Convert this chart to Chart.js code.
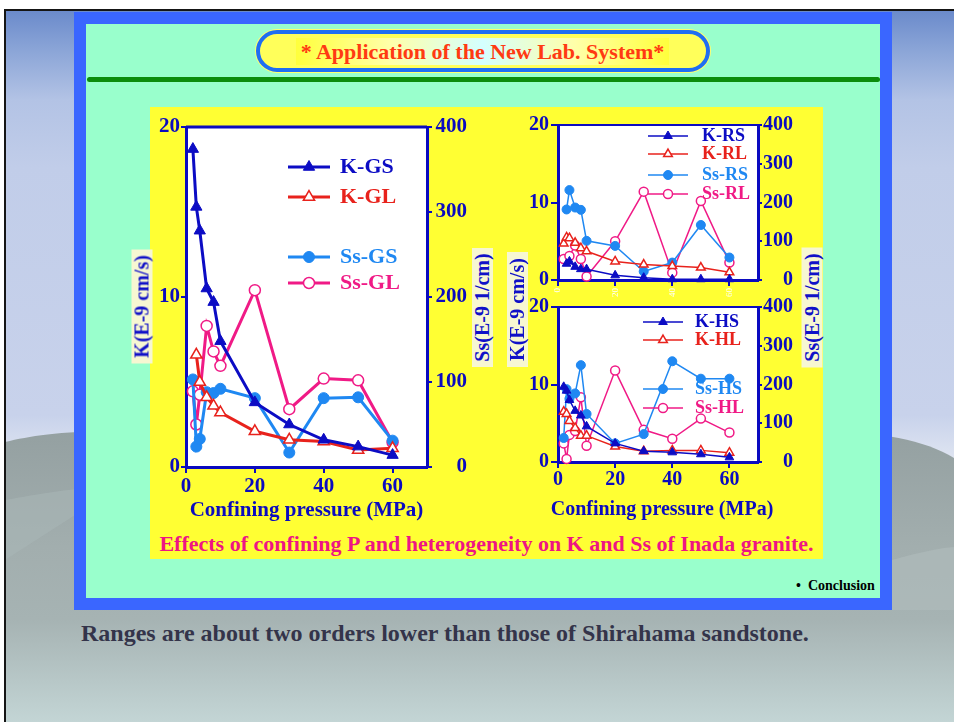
<!DOCTYPE html>
<html>
<head>
<meta charset="utf-8">
<script src="https://cdn.jsdelivr.net/npm/chart.js@4.4.1/dist/chart.umd.min.js"></script>
<style>
  html, body { margin: 0; padding: 0; }
  body { width: 954px; height: 722px; position: relative; overflow: hidden; background: #fff;
         font-family: 'Liberation Serif', 'Times New Roman', serif; }
  .abs { position: absolute; }
  #frame { left: 74px; top: 12px; width: 818px; height: 598px; background: #3a66ff; }
  #panel { left: 86px; top: 24px; width: 794px; height: 574px; background: #99ffcc; }
  #pill { left: 256px; top: 30px; width: 454px; height: 42px; box-sizing: border-box;
          border: 4px solid #1f6ef2; border-radius: 21px; background: #ffff5a;
          box-shadow: 0 0 0 1px #ffff70; }
  #pillText { left: 296px; top: 38px; width: 373px; height: 27px; line-height: 27px; text-align: center;
              font-size: 22px; font-weight: bold; color: #ff3a12; white-space: nowrap;
              background: linear-gradient(to right, #ffff3c 0%, #ffffa8 25%, #d4ffff 50%, #ffffa8 75%, #ffff3c 100%); }
  #rule { left: 87px; top: 77px; width: 793px; height: 5px; background: #0c8c0c; border-radius: 3px; }
  #yellow { left: 150px; top: 107px; width: 673px; height: 452px; background: #ffff33; }
  .ytitle { height: 21px; line-height: 21px; font-size: 20px; font-weight: bold; color: #1010c8;
            background: #f7f7d2; text-align: center; white-space: nowrap; transform: rotate(-90deg); }
  #xTitleRight { left: 542px; top: 496px; width: 240px; text-align: center; font-size: 20px; font-weight: bold;
                 color: #0b0bc0; white-space: nowrap; line-height: 24px; }
  #caption { left: 150px; top: 531px; width: 673px; text-align: center; font-size: 22px; font-weight: bold;
             color: #ee1583; white-space: nowrap; line-height: 26px; }
  #concl { left: 796px; top: 578px; font-size: 14px; font-weight: bold; color: #000; white-space: nowrap; }
  #note { left: 81px; top: 620px; font-size: 24px; font-weight: bold; color: #34344a; white-space: nowrap; }
  canvas { position: absolute; }
</style>
</head>
<body>
<svg class="abs" style="left:0;top:0" width="954" height="722">
  <defs>
    <linearGradient id="sky" x1="0" y1="10" x2="0" y2="460" gradientUnits="userSpaceOnUse">
      <stop offset="0" stop-color="#6a8acb"/>
      <stop offset="0.09" stop-color="#8ba5d7"/>
      <stop offset="0.2" stop-color="#b3c3e5"/>
      <stop offset="0.35" stop-color="#c1cde9"/>
      <stop offset="0.9" stop-color="#c8d2eb"/>
      <stop offset="1" stop-color="#dfe5f1"/>
    </linearGradient>
    <linearGradient id="hill" x1="0" y1="430" x2="0" y2="722" gradientUnits="userSpaceOnUse">
      <stop offset="0" stop-color="#94a0a1"/>
      <stop offset="0.4" stop-color="#a2aeae"/>
      <stop offset="0.65" stop-color="#a6b3b3"/>
      <stop offset="1" stop-color="#c3d5d5"/>
    </linearGradient>
  </defs>
  <rect x="5" y="10" width="949" height="712" fill="url(#sky)"/>
  <path d="M5,442 C30,436 55,432 120,430 L820,430 C880,432 925,440 954,458 L954,722 L5,722 Z" fill="url(#hill)"/>
  <path d="M5,500 C40,494 70,488 120,486 L5,560 Z" fill="#a9b6b6" opacity="0.6"/>
  <path d="M892,560 C920,552 940,548 954,547 L954,610 L892,610 Z" fill="#b0bdbd" opacity="0.6"/>
  <rect x="4" y="9" width="950" height="2" fill="#151515"/>
  <rect x="4" y="9" width="2" height="713" fill="#151515"/>
</svg>

<div id="frame" class="abs"></div>
<div id="panel" class="abs"></div>
<div id="pill" class="abs"></div>
<div id="pillText" class="abs">* Application of the New Lab. System*</div>
<div id="rule" class="abs"></div>
<div id="yellow" class="abs"></div>

<canvas id="cMain" width="317" height="420" style="left:150px;top:107px"></canvas>
<canvas id="cTop" width="293" height="200" style="left:500px;top:107px"></canvas>
<canvas id="cBottom" width="293" height="240" style="left:500px;top:285px"></canvas>

<div class="abs ytitle" style="left:85px;top:296px;width:114px;">K(E-9 cm/s)</div>
<div class="abs ytitle" style="left:423px;top:297px;width:119px;">Ss(E-9 1/cm)</div>
<div class="abs ytitle" style="left:460px;top:299px;width:115px;">K(E-9 cm/s)</div>
<div class="abs ytitle" style="left:752px;top:297px;width:120px;">Ss(E-9 1/cm)</div>
<div id="xTitleRight" class="abs">Confining pressure (MPa)</div>

<div id="caption" class="abs">Effects of confining P and heterogeneity on K and Ss of Inada granite.</div>
<div id="concl" class="abs">&#8226;&nbsp;&nbsp;Conclusion</div>
<div id="note" class="abs">Ranges are about two orders lower than those of Shirahama sandstone.</div>

<script>
// Inada granite: permeability K (E-9 cm/s) and specific storage Ss (E-9 1/cm)
// against confining pressure (MPa), for three specimen groups.

// G group
const pGS   = [2, 3, 4, 6, 8, 10, 20, 30, 40, 50, 60];
const kGS   = [18.7, 15.3, 13.9, 10.5, 9.7, 7.4, 3.8, 2.5, 1.6, 1.2, 0.7];
const ssGS  = [103, 24, 33, 88, 87, 92, 81, 17, 81, 82, 31];
const pGL   = [3, 4, 6, 8, 10, 20, 30, 40, 50, 60];
const kGL   = [6.6, 5.0, 4.1, 3.6, 3.2, 2.1, 1.6, 1.5, 1.0, 1.1];
const pGLss = [2, 3, 4, 6, 8, 10, 20, 30, 40, 50, 60];
const ssGL  = [89, 50, 85, 166, 136, 119, 208, 68, 104, 102, 29];

// R group
const pRS   = [3, 4, 6, 8, 10, 20, 30, 40, 50, 60];
const kRS   = [2.1, 2.4, 1.7, 1.4, 1.4, 0.6, 0.3, 0.1, 0.1, 0.1];
const ssRS  = [182, 232, 187, 181, 101, 88, 22, 45, 142, 58];
const pRL   = [2, 3, 4, 6, 8, 10, 20, 30, 40, 50, 60];
const kRL   = [4.7, 5.5, 5.4, 4.8, 4.1, 3.7, 2.4, 2.0, 1.8, 1.6, 1.0];
const pRLss = [2, 4, 6, 8, 10, 20, 30, 40, 50, 60];
const ssRL  = [54, 62, 89, 54, 9, 100, 228, 19, 204, 45];

// H group
const pHS   = [2, 3, 4, 6, 8, 10, 20, 30, 40, 50, 60];
const kHS   = [9.7, 9.2, 8.0, 6.6, 6.0, 4.6, 2.4, 1.4, 1.25, 1.0, 0.6];
const ssHS  = [62, 188, 163, 177, 250, 124, 48, 72, 260, 215, 215];
const pHL   = [2, 3, 4, 6, 8, 10, 20, 30, 40, 50, 60];
const kHL   = [6.5, 6.2, 5.3, 4.4, 3.4, 3.4, 2.0, 1.4, 1.5, 1.5, 1.2];
const ssHL  = [48, 8, 70, 80, 167, 42, 236, 83, 60, 112, 76];

// axis ticks
const pressureTicks = [0, 20, 40, 60];
const kTicks = [0, 10, 20];
const ssTicks = [0, 100, 200, 300, 400];

const AXIS = '#0b0bc0';
const NAVY = '#0c0cc4';
const RED = '#e8221c';
const SKY = '#1f88f2';
const PINK = '#f01a86';
const SERIF = "'Liberation Serif', 'Times New Roman', serif";

const pts = (xs, ys) => xs.map((x, i) => ({ x, y: ys[i] }));

function series(label, data, axis, color, style, filled, width, radius) {
  return {
    label, data, yAxisID: axis,
    borderColor: color, borderWidth: width, tension: 0, clip: false,
    pointStyle: style, pointRadius: radius,
    pointBackgroundColor: filled ? color : '#ffffff',
    pointBorderColor: color, pointBorderWidth: filled ? 1 : 1.5
  };
}

// white plot area with a top edge closing the frame
const plotFrame = {
  id: 'plotFrame',
  beforeDraw(chart) {
    const { ctx, chartArea: a } = chart;
    ctx.save();
    ctx.fillStyle = '#ffffff';
    ctx.fillRect(a.left, a.top, a.right - a.left, a.bottom - a.top);
    ctx.restore();
  },
  afterDraw(chart, args, o) {
    const { ctx, chartArea: a } = chart;
    ctx.save();
    ctx.strokeStyle = AXIS;
    ctx.lineWidth = o.width || 3;
    ctx.beginPath();
    ctx.moveTo(a.left, a.top);
    ctx.lineTo(a.right, a.top);
    ctx.stroke();
    ctx.restore();
  }
};

// legend entries placed inside the plot area
const floatingLegend = {
  id: 'floatingLegend',
  afterDraw(chart, args, o) {
    if (!o.rows) return;
    const { ctx, chartArea: a } = chart;
    o.rows.forEach(r => {
      const ds = chart.data.datasets[r.index];
      const y = a.top + r.dy;
      const x0 = a.left + o.lineFrom, x1 = a.left + o.lineTo;
      ctx.save();
      ctx.strokeStyle = ds.borderColor;
      ctx.lineWidth = ds.borderWidth;
      ctx.beginPath(); ctx.moveTo(x0, y); ctx.lineTo(x1, y); ctx.stroke();
      ctx.fillStyle = ds.pointBackgroundColor;
      ctx.strokeStyle = ds.pointBorderColor;
      ctx.lineWidth = ds.pointBorderWidth;
      Chart.helpers.drawPoint(ctx, { pointStyle: ds.pointStyle, radius: ds.pointRadius, rotation: 0,
                                     borderWidth: ds.pointBorderWidth }, (x0 + x1) / 2, y);
      ctx.fillStyle = ds.borderColor;
      ctx.font = 'bold ' + o.textSize + 'px ' + SERIF;
      ctx.textBaseline = 'middle';
      ctx.textAlign = 'left';
      ctx.fillText(ds.label, a.left + o.textAt, y);
      ctx.restore();
    });
  }
};

function setTicks(list) {
  return scale => { scale.ticks = list.map(v => ({ value: v })); };
}

function gridOpts(tl) {
  return { display: true, drawOnChartArea: false, drawTicks: true, tickLength: tl, color: AXIS, lineWidth: 2 };
}

function buildChart(id, datasets, cfg) {
  return new Chart(document.getElementById(id), {
    type: 'line',
    data: { datasets },
    options: {
      responsive: false, animation: false, devicePixelRatio: 1,
      layout: { padding: { top: cfg.padTop, left: 0, right: 0, bottom: 0 } },
      plugins: {
        legend: { display: false }, tooltip: { enabled: false },
        plotFrame: { width: cfg.topWidth },
        floatingLegend: cfg.legend
      },
      scales: {
        x: {
          type: 'linear', min: 0, max: 70,
          afterBuildTicks: setTicks(pressureTicks),
          afterFit: s => { s.height = cfg.xHeight; },
          grid: gridOpts(6),
          border: { display: true, color: AXIS, width: 3 },
          ticks: cfg.xTicks,
          title: cfg.xTitle
        },
        yK: {
          position: 'left', min: 0, max: 20,
          afterBuildTicks: setTicks(kTicks),
          afterFit: s => { s.width = cfg.leftWidth; },
          grid: gridOpts(cfg.leftTick),
          border: { display: true, color: AXIS, width: 3 },
          ticks: { color: AXIS, padding: cfg.leftPad, font: { family: SERIF, size: cfg.tickSize, weight: 'bold' } }
        },
        ySs: {
          position: 'right', min: 0, max: 400,
          afterBuildTicks: setTicks(ssTicks),
          afterFit: s => { s.width = cfg.rightWidth; },
          grid: gridOpts(cfg.rightTick),
          border: { display: true, color: AXIS, width: 3 },
          ticks: { color: AXIS, padding: 1, crossAlign: 'far', font: { family: SERIF, size: cfg.tickSize, weight: 'bold' } }
        }
      }
    },
    plugins: [plotFrame, floatingLegend]
  });
}

const pressureTitle = (size, bottom) => ({
  display: true, text: 'Confining pressure (MPa)', color: AXIS,
  font: { family: SERIF, size, weight: 'bold' }, padding: { top: 0, bottom }
});

// G group: large panel
buildChart('cMain', [
  series('K-GS', pts(pGS, kGS), 'yK', NAVY, 'triangle', true, 3, 6.5),
  series('K-GL', pts(pGL, kGL), 'yK', RED, 'triangle', false, 3, 6.5),
  series('Ss-GS', pts(pGS, ssGS), 'ySs', SKY, 'circle', true, 3, 5.5),
  series('Ss-GL', pts(pGLss, ssGL), 'ySs', PINK, 'circle', false, 3, 5.5)
], {
  padTop: 20, xHeight: 60, leftWidth: 36, rightWidth: 40,
  leftTick: 5, leftPad: 1, rightTick: 5, tickSize: 21, topWidth: 3,
  xTicks: { color: AXIS, padding: 1, maxRotation: 0, font: { family: SERIF, size: 21, weight: 'bold' } },
  xTitle: pressureTitle(21, 4),
  legend: { lineFrom: 102, lineTo: 144, textAt: 154, textSize: 22,
            rows: [{ index: 0, dy: 40 }, { index: 1, dy: 70 }, { index: 2, dy: 130 }, { index: 3, dy: 156 }] }
});

// R group: upper right panel
buildChart('cTop', [
  series('K-RS', pts(pRS, kRS), 'yK', NAVY, 'triangle', true, 1.5, 5),
  series('K-RL', pts(pRL, kRL), 'yK', RED, 'triangle', false, 1.5, 5),
  series('Ss-RS', pts(pRS, ssRS), 'ySs', SKY, 'circle', true, 1.5, 4.5),
  series('Ss-RL', pts(pRLss, ssRL), 'ySs', PINK, 'circle', false, 1.5, 4.5)
], {
  padTop: 18, xHeight: 27, leftWidth: 58, rightWidth: 35,
  leftTick: 7, leftPad: 2, rightTick: 4, tickSize: 20, topWidth: 2,
  xTicks: { color: '#ffffff', padding: 2, minRotation: 90, maxRotation: 90, font: { family: SERIF, size: 9 } },
  xTitle: { display: false },
  legend: { lineFrom: 90, lineTo: 130, textAt: 144, textSize: 18,
            rows: [{ index: 0, dy: 11 }, { index: 1, dy: 29 }, { index: 2, dy: 50 }, { index: 3, dy: 69 }] }
});

// H group: lower right panel (its axis title is set as page text below the canvas)
buildChart('cBottom', [
  series('K-HS', pts(pHS, kHS), 'yK', NAVY, 'triangle', true, 1.5, 5),
  series('K-HL', pts(pHL, kHL), 'yK', RED, 'triangle', false, 1.5, 5),
  series('Ss-HS', pts(pHS, ssHS), 'ySs', SKY, 'circle', true, 1.5, 4.5),
  series('Ss-HL', pts(pHL, ssHL), 'ySs', PINK, 'circle', false, 1.5, 4.5)
], {
  padTop: 22, xHeight: 63, leftWidth: 58, rightWidth: 35,
  leftTick: 7, leftPad: 2, rightTick: 4, tickSize: 20, topWidth: 2,
  xTicks: { color: AXIS, padding: 0, maxRotation: 0, font: { family: SERIF, size: 20, weight: 'bold' } },
  xTitle: { display: false },
  legend: { lineFrom: 85, lineTo: 125, textAt: 137, textSize: 18,
            rows: [{ index: 0, dy: 15 }, { index: 1, dy: 33 }, { index: 2, dy: 82 }, { index: 3, dy: 101 }] }
});
</script>
</body>
</html>
